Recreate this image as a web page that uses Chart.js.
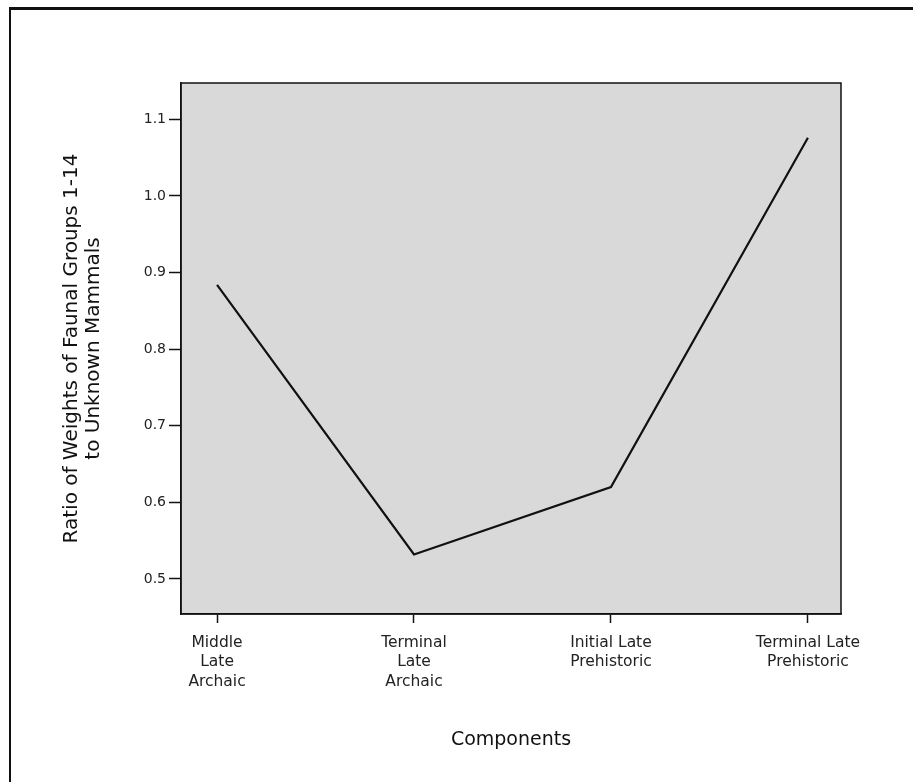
<!DOCTYPE html>
<html>
<head>
<meta charset="utf-8">
<script src="https://cdn.jsdelivr.net/npm/chart.js@4"></script>
<style>
  html, body { margin: 0; padding: 0; background: #fff; }
  #wrap { width: 913px; height: 782px; }
</style>
</head>
<body>
<div id="wrap"><canvas id="c" width="913" height="782"></canvas></div>
<script>
const categories = [
  ["Middle", "Late", "Archaic"],
  ["Terminal", "Late", "Archaic"],
  ["Initial Late", "Prehistoric"],
  ["Terminal Late", "Prehistoric"]
];
const ratioValues = [0.884, 0.532, 0.62, 1.076];
const yTickValues = [0.5, 0.6, 0.7, 0.8, 0.9, 1.0, 1.1];
const yTitle = ["Ratio of Weights of Faunal Groups 1-14", "to Unknown Mammals"];
const xTitle = "Components";

const FONT = "'DejaVu Sans', sans-serif";

const framePlugin = {
  id: 'frame',
  beforeDraw(chart) {
    const ctx = chart.ctx;
    ctx.save();
    ctx.fillStyle = '#ffffff';
    ctx.fillRect(0, 0, chart.width, chart.height);
    ctx.fillStyle = '#111111';
    ctx.fillRect(9, 7, chart.width - 9, 3);
    ctx.fillRect(9, 7, 2, chart.height - 7);
    const a = chart.chartArea;
    ctx.fillStyle = '#d9d9d9';
    ctx.fillRect(a.left, a.top, a.right - a.left, a.bottom - a.top);
    ctx.restore();
  },
  afterDatasetsDraw(chart) {
    const ctx = chart.ctx;
    const a = chart.chartArea;
    ctx.save();
    ctx.strokeStyle = '#111111';
    ctx.lineWidth = 1.5;
    ctx.strokeRect(a.left, a.top, a.right - a.left, a.bottom - a.top);
    ctx.restore();
  }
};

new Chart(document.getElementById('c'), {
  type: 'line',
  data: {
    datasets: [{
      data: ratioValues.map((v, i) => ({ x: i, y: v })),
      borderColor: '#111111',
      borderWidth: 2.2,
      pointRadius: 0,
      tension: 0,
      fill: false
    }]
  },
  plugins: [framePlugin],
  options: {
    responsive: false,
    animation: false,
    devicePixelRatio: 1,
    layout: { padding: { left: 0, right: 72, top: 83, bottom: 0 } },
    plugins: { legend: { display: false }, tooltip: { enabled: false } },
    scales: {
      x: {
        type: 'linear',
        min: -0.183,
        max: 3.168,
        afterBuildTicks(scale) {
          scale.ticks = categories.map((c, i) => ({ value: i }));
        },
        afterFit(scale) { scale.height = 168; },
        ticks: {
          callback: (v) => categories[v],
          color: '#222222',
          font: { family: FONT, size: 15.5, lineHeight: 1.26 },
          padding: 10,
          maxRotation: 0,
          autoSkip: false
        },
        grid: {
          drawOnChartArea: false,
          drawTicks: true,
          tickLength: 9,
          tickColor: '#111111',
          tickWidth: 1.5
        },
        border: { display: true, color: '#111111', width: 1.5 },
        title: {
          display: true,
          text: xTitle,
          color: '#111111',
          font: { family: FONT, size: 19, lineHeight: 1.2 },
          padding: { top: 0, bottom: 31 }
        }
      },
      y: {
        type: 'linear',
        min: 0.4543,
        max: 1.1475,
        afterBuildTicks(scale) {
          scale.ticks = yTickValues.map(v => ({ value: v }));
        },
        afterFit(scale) { scale.width = 181; },
        ticks: {
          callback: (v) => v.toFixed(1),
          color: '#222222',
          font: { family: FONT, size: 14 },
          padding: 3
        },
        grid: {
          drawOnChartArea: false,
          drawTicks: true,
          tickLength: 12,
          tickColor: '#111111',
          tickWidth: 1.5
        },
        border: { display: true, color: '#111111', width: 1.5 },
        title: {
          display: true,
          text: yTitle,
          color: '#111111',
          font: { family: FONT, size: 20, lineHeight: 1.1 },
          padding: { top: 61, bottom: 0 }
        }
      }
    }
  }
});
</script>
</body>
</html>
